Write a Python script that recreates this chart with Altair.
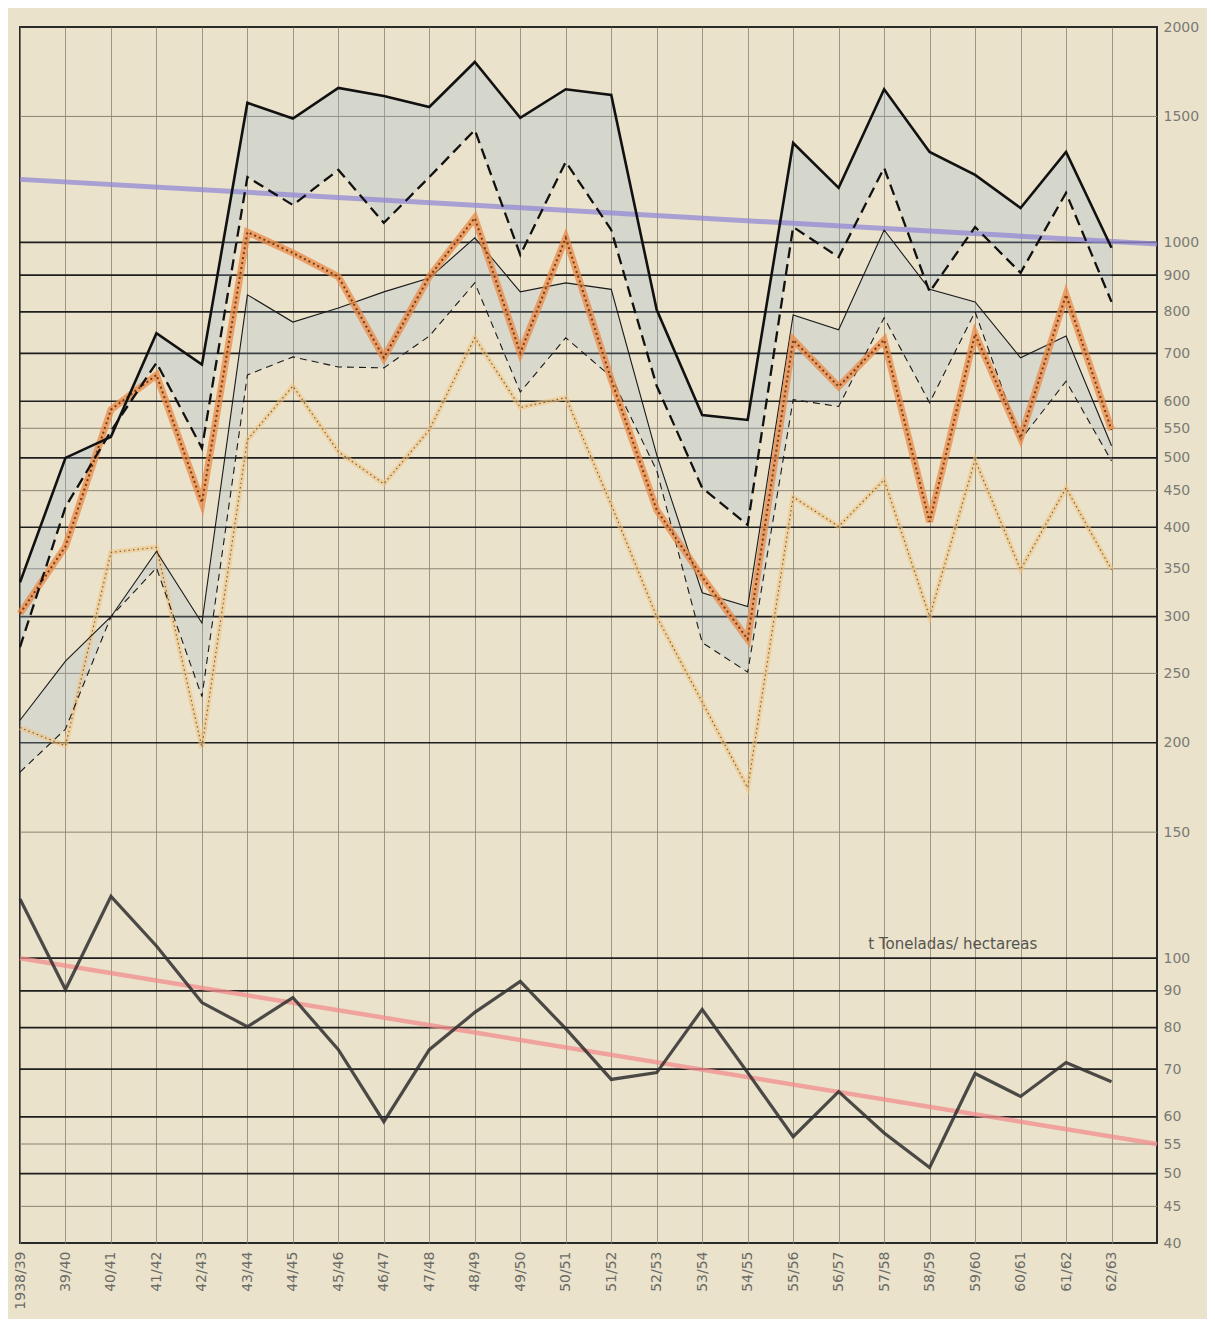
import altair as alt
import pandas as pd

years = ["1938/39", "39/40", "40/41", "41/42", "42/43", "43/44", "44/45", "45/46",
         "46/47", "47/48", "48/49", "49/50", "50/51", "51/52", "52/53", "53/54",
         "54/55", "55/56", "56/57", "57/58", "58/59", "59/60", "60/61", "61/62", "62/63"]

thick_solid = [335, 500, 535, 747, 675, 1567, 1490, 1644, 1602, 1546, 1787, 1493, 1637,
               1607, 805, 574, 565, 1377, 1192, 1637, 1338, 1243, 1117, 1338, 983]
thick_dashed = [272, 427, 545, 679, 516, 1234, 1128, 1263, 1065, 1234, 1436, 961, 1296,
                1041, 630, 454, 403, 1051, 954, 1271, 853, 1051, 907, 1173, 826]
orange_thick = [303, 376, 584, 653, 433, 1034, 967, 896, 690, 896, 1082, 701, 1015,
                643, 423, 341, 279, 731, 629, 731, 407, 745, 533, 845, 547]
thin_solid = [215, 260, 300, 370, 294, 845, 774, 810, 853, 892, 1015, 853, 878,
              860, 505, 324, 310, 792, 755, 1041, 860, 826, 690, 740, 520]
thin_dashed = [182, 209, 300, 351, 232, 653, 692, 670, 668, 740, 878, 618, 736,
               649, 480, 276, 251, 603, 590, 785, 597, 800, 530, 640, 495]
orange_dotted = [210, 198, 369, 375, 197, 530, 630, 510, 460, 547, 736, 588, 607,
                 430, 300, 228, 173, 441, 401, 466, 300, 497, 349, 454, 349]
yield_vals = [121, 90.4, 122, 104, 86.7, 80.2, 88.1, 74.5, 59.1, 74.5, 84, 92.8, 79.7,
              67.7, 69.2, 84.8, 69.2, 56.3, 65.1, 57, 51, 69, 64.1, 71.5, 67.2]

trend_idx = [0, 25]
blue_trend = [1225, 995]
pink_trend = [100, 55]

y_ticks = [40, 45, 50, 55, 60, 70, 80, 90, 100, 150, 200, 250, 300, 350, 400, 450,
           500, 550, 600, 700, 800, 900, 1000, 1500, 2000]
major_lines = [50, 60, 70, 80, 90, 100, 200, 300, 400, 500, 600, 700, 800, 900, 1000]
minor_lines = [45, 55, 150, 250, 350, 450, 550, 1500]

note_text = ["t Toneladas/ hectareas"]
note_idx = [18.65]
note_val = [103]

idx = list(range(len(years)))
df = pd.DataFrame({
    "idx": idx, "year": years,
    "thick_solid": thick_solid, "thick_dashed": thick_dashed,
    "orange_thick": orange_thick, "thin_solid": thin_solid,
    "thin_dashed": thin_dashed, "orange_dotted": orange_dotted,
    "yield": yield_vals,
})
trend_df = pd.DataFrame({"idx": trend_idx, "blue": blue_trend, "pink": pink_trend})
major_df = pd.DataFrame({"v": major_lines})
minor_df = pd.DataFrame({"v": minor_lines})
note_df = pd.DataFrame({"idx": note_idx, "v": note_val, "t": note_text})

label_arr = "[" + ",".join("'" + y + "'" for y in years) + "]"
xscale = alt.Scale(domain=[0, 25], nice=False, zero=False)
xaxis = alt.Axis(values=idx, labelExpr=label_arr + "[datum.value]", labelAngle=-90,
                 grid=True, gridColor="#8a8270", gridWidth=0.8, ticks=False, domain=False,
                 title=None, labelFontSize=14, labelColor="#6b6b66", labelPadding=8,
                 labelFont="DejaVu Sans")
yscale = alt.Scale(type="log", domain=[40, 2000], nice=False)
yaxis = alt.Axis(orient="right", values=y_ticks, grid=False, ticks=False, domain=False,
                 title=None, labelFontSize=14, labelColor="#7a7a74", format="d",
                 labelPadding=6, labelFont="DejaVu Sans")


def X():
    return alt.X("idx:Q", scale=xscale, axis=xaxis)


def Y(f):
    return alt.Y(f + ":Q", scale=yscale, axis=yaxis)


base = alt.Chart(df)

minor_rules = alt.Chart(minor_df).mark_rule(color="#8c8372", strokeWidth=1).encode(y=Y("v"))
major_rules = alt.Chart(major_df).mark_rule(color="#1e1e1e", strokeWidth=1.7).encode(y=Y("v"))

band1 = base.mark_area(color="#9fb6cf", opacity=0.28).encode(
    x=X(), y=Y("thick_solid"), y2="thick_dashed:Q")
band2 = base.mark_area(color="#9fb6cf", opacity=0.24).encode(
    x=X(), y=Y("thin_solid"), y2="thin_dashed:Q")

blue = alt.Chart(trend_df).mark_line(color="#9188d6", strokeWidth=5, opacity=0.75).encode(
    x=X(), y=Y("blue"))
pink = alt.Chart(trend_df).mark_line(color="#f28c8c", strokeWidth=4.5, opacity=0.75).encode(
    x=X(), y=Y("pink"))

od_glow = base.mark_line(color="#f2c27e", strokeWidth=5, opacity=0.55).encode(
    x=X(), y=Y("orange_dotted"))
od_dots = base.mark_line(color="#6e5b3e", strokeWidth=1.1, strokeDash=[1.5, 3]).encode(
    x=X(), y=Y("orange_dotted"))

thin_s = base.mark_line(color="#1a1a1a", strokeWidth=1.1).encode(x=X(), y=Y("thin_solid"))
thin_d = base.mark_line(color="#1a1a1a", strokeWidth=1.1, strokeDash=[7, 5]).encode(
    x=X(), y=Y("thin_dashed"))

ot_glow = base.mark_line(color="#ea8a45", strokeWidth=7, opacity=0.75).encode(
    x=X(), y=Y("orange_thick"))
ot_dots = base.mark_line(color="#7a3b16", strokeWidth=2, strokeDash=[2, 3]).encode(
    x=X(), y=Y("orange_thick"))

thick_s = base.mark_line(color="#111111", strokeWidth=2.6).encode(x=X(), y=Y("thick_solid"))
thick_d = base.mark_line(color="#111111", strokeWidth=2.3, strokeDash=[11, 6]).encode(
    x=X(), y=Y("thick_dashed"))

yld = base.mark_line(color="#2e2e2e", strokeWidth=3.2, opacity=0.85).encode(
    x=X(), y=Y("yield"))

note = alt.Chart(note_df).mark_text(align="left", baseline="alphabetic", fontSize=15,
                                    color="#555550", font="DejaVu Sans").encode(
    x=X(), y=Y("v"), text="t:N")

chart = alt.layer(
    minor_rules, major_rules, band1, band2, blue, pink,
    od_glow, od_dots, thin_s, thin_d, ot_glow, ot_dots, thick_s, thick_d, yld, note
).properties(
    width=1137, height=1216,
    autosize=alt.AutoSizeParams(type="none"),
    padding={"left": 12, "top": 19, "right": 50, "bottom": 76},
    background="#ebe2cb",
).configure_view(stroke="#2a2a2a", strokeWidth=2)

chart.save("out.html", embed_options={"renderer": "svg", "actions": False})
